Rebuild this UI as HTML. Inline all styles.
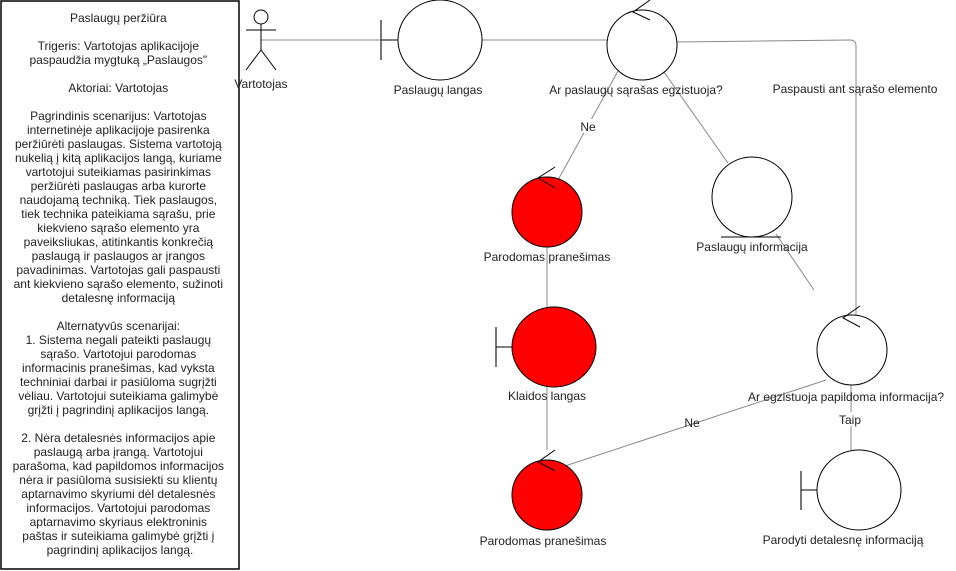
<!DOCTYPE html>
<html><head><meta charset="utf-8"><style>
html,body{margin:0;padding:0;background:#fff;}
svg{display:block;}
text{font-family:"Liberation Sans",Arial,sans-serif;font-size:12px;fill:#222;}
</style></head><body>
<svg width="956" height="571" viewBox="0 0 956 571" xmlns="http://www.w3.org/2000/svg">
<g>
<rect x="1" y="1" width="238" height="568" fill="#fff" stroke="#000" stroke-width="1.5"/>
<text text-anchor="middle" x="120">
<tspan x="120" y="22">Paslaugų peržiūra</tspan>
<tspan x="120" y="50">Trigeris: Vartotojas aplikacijoje</tspan>
<tspan x="120" y="64">paspaudžia mygtuką „Paslaugos"</tspan>
<tspan x="120" y="92">Aktoriai: Vartotojas</tspan>
<tspan x="120" y="120">Pagrindinis scenarijus: Vartotojas</tspan>
<tspan x="120" y="134">internetinėje aplikacijoje pasirenka</tspan>
<tspan x="120" y="148">peržiūrėti paslaugas. Sistema vartotoją</tspan>
<tspan x="120" y="162">nukelią į kitą aplikacijos langą, kuriame</tspan>
<tspan x="120" y="176">vartotojui suteikiamas pasirinkimas</tspan>
<tspan x="120" y="190">peržiūrėti paslaugas arba kurorte</tspan>
<tspan x="120" y="204">naudojamą techniką. Tiek paslaugos,</tspan>
<tspan x="120" y="218">tiek technika pateikiama sąrašu, prie</tspan>
<tspan x="120" y="232">kiekvieno sąrašo elemento yra</tspan>
<tspan x="120" y="246">paveiksliukas, atitinkantis konkrečią</tspan>
<tspan x="120" y="260">paslaugą ir paslaugos ar įrangos</tspan>
<tspan x="120" y="274">pavadinimas. Vartotojas gali paspausti</tspan>
<tspan x="120" y="288">ant kiekvieno sąrašo elemento, sužinoti</tspan>
<tspan x="120" y="302">detalesnę informaciją</tspan>
<tspan x="120" y="330">Alternatyvūs scenarijai:</tspan>
<tspan x="120" y="344">1. Sistema negali pateikti paslaugų</tspan>
<tspan x="120" y="358">sąrašo. Vartotojui parodomas</tspan>
<tspan x="120" y="372">informacinis pranešimas, kad vyksta</tspan>
<tspan x="120" y="386">techniniai darbai ir pasiūloma sugrįžti</tspan>
<tspan x="120" y="400">vėliau. Vartotojui suteikiama galimybė</tspan>
<tspan x="120" y="414">grįžti į pagrindinį aplikacijos langą.</tspan>
<tspan x="120" y="442">2. Nėra detalesnės informacijos apie</tspan>
<tspan x="120" y="456">paslaugą arba įrangą. Vartotojui</tspan>
<tspan x="120" y="470">parašoma, kad papildomos informacijos</tspan>
<tspan x="120" y="484">nėra ir pasiūloma susisiekti su klientų</tspan>
<tspan x="120" y="498">aptarnavimo skyriumi dėl detalesnės</tspan>
<tspan x="120" y="512">informacijos. Vartotojui parodomas</tspan>
<tspan x="120" y="526">aptarnavimo skyriaus elektroninis</tspan>
<tspan x="120" y="540">paštas ir suteikiama galimybė grįžti į</tspan>
<tspan x="120" y="554">pagrindinį aplikacijos langą.</tspan>
</text>
</g>

<!-- edges -->
<g fill="none" stroke="#888" stroke-width="1">
<line x1="261" y1="40" x2="381" y2="40"/>
<line x1="481" y1="40" x2="607" y2="40"/>
<path d="M677 42 L850 40 Q856 40 856 46 L856 318"/>
<line x1="618" y1="71" x2="558" y2="180"/>
<line x1="664" y1="72" x2="728" y2="163"/>
<line x1="776" y1="234" x2="814" y2="290"/>
<line x1="826" y1="380" x2="565" y2="466"/>
</g>
<g stroke="#c4c4c4" stroke-width="2">
<line x1="547" y1="247" x2="547" y2="307"/>
<line x1="547" y1="387" x2="547" y2="450"/>
<line x1="851" y1="385" x2="851" y2="450"/>
</g>

<!-- actor -->
<g stroke="#000" stroke-width="1" fill="none">
<circle cx="261" cy="17" r="7" fill="#fff"/>
<line x1="261" y1="24" x2="261" y2="50"/>
<line x1="246" y1="30" x2="276" y2="30"/>
<line x1="261" y1="50" x2="246" y2="70"/>
<line x1="261" y1="50" x2="276" y2="70"/>
</g>
<text x="261" y="88" text-anchor="middle">Vartotojas</text>

<!-- boundary: Paslaugu langas -->
<g>
<line x1="381" y1="20" x2="381" y2="60" stroke="#777" stroke-width="2"/>
<line x1="381" y1="40" x2="398" y2="40" stroke="#000"/>
<ellipse cx="440" cy="40" rx="42" ry="40" fill="#fff" stroke="#000"/>
</g>
<text x="438" y="94" text-anchor="middle">Paslaugų langas</text>

<!-- control 1 -->
<g>
<circle cx="642" cy="45" r="35" fill="#fff" stroke="#000"/>
<polyline points="650,0 633,12 650,20" fill="none" stroke="#000"/>
</g>
<text x="636" y="94" text-anchor="middle">Ar paslaugų sąrašas egzistuoja?</text>
<text x="855" y="93" text-anchor="middle">Paspausti ant sąrašo elemento</text>
<rect x="579" y="119" width="18" height="14" fill="#fff"/>
<text x="588" y="131" text-anchor="middle">Ne</text>

<!-- entity: Paslaugu informacija -->
<g>
<ellipse cx="752" cy="197" rx="40" ry="40" fill="#fff" stroke="#000"/>
<line x1="721" y1="237" x2="781" y2="237" stroke="#000"/>
</g>
<text x="752" y="251" text-anchor="middle">Paslaugų informacija</text>

<!-- red control 1 -->
<g>
<circle cx="547" cy="212" r="35" fill="#ff0000" stroke="#000"/>
<polyline points="555,167 538,178 555,188" fill="none" stroke="#000"/>
</g>
<text x="547" y="261" text-anchor="middle">Parodomas pranešimas</text>

<!-- red boundary -->
<g>
<line x1="496" y1="327" x2="496" y2="367" stroke="#777" stroke-width="2"/>
<line x1="496" y1="347" x2="513" y2="347" stroke="#000"/>
<ellipse cx="554" cy="347" rx="42" ry="40" fill="#ff0000" stroke="#000"/>
</g>
<text x="547" y="400" text-anchor="middle">Klaidos langas</text>

<!-- red control 2 -->
<g>
<circle cx="547" cy="495" r="35" fill="#ff0000" stroke="#000"/>
<polyline points="555,450 538,462 555,471" fill="none" stroke="#000"/>
</g>
<text x="543" y="545" text-anchor="middle">Parodomas pranešimas</text>

<!-- control 2 -->
<g>
<circle cx="852" cy="350" r="35" fill="#fff" stroke="#000"/>
<polyline points="860,306 843,318 860,327" fill="none" stroke="#000"/>
</g>
<text x="846" y="401" text-anchor="middle">Ar egzistuoja papildoma informacija?</text>
<rect x="838" y="412" width="26" height="14" fill="#fff"/>
<text x="850" y="424" text-anchor="middle">Taip</text>
<text x="692" y="427" text-anchor="middle">Ne</text>

<!-- boundary: Parodyti -->
<g>
<line x1="801" y1="471" x2="801" y2="510" stroke="#777" stroke-width="2"/>
<line x1="801" y1="490" x2="817" y2="490" stroke="#000"/>
<ellipse cx="859" cy="490" rx="42" ry="40" fill="#fff" stroke="#000"/>
</g>
<text x="843" y="544" text-anchor="middle">Parodyti detalesnę informaciją</text>
</svg>
</body></html>
